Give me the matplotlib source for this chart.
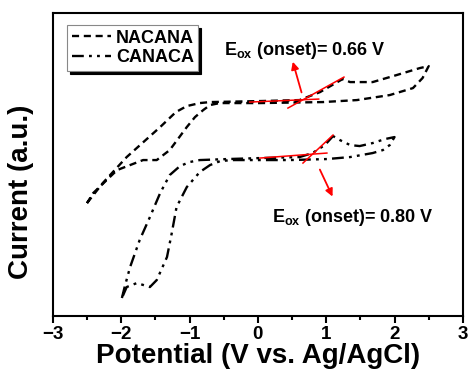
import matplotlib
matplotlib.use("Agg")
import matplotlib.pyplot as plt

# ----------------------------------------------------------
# Data (current in arbitrary units)
# ----------------------------------------------------------
nacana_v = [-2.50, -2.27, -1.92, -1.43, -1.20, -1.04, -0.85, -0.70, 0.03, 0.61,
            0.91, 1.24, 1.35, 1.68, 2.03, 2.37, 2.50, 2.41, 2.27, 1.93,
            1.45, 0.95, 0.03, -0.56, -0.70, -0.80, -0.92, -1.04, -1.29, -1.48,
            -1.68, -2.06, -2.41, -2.50]
nacana_i = [113, 133, 159, 189, 204, 210, 213, 214, 215, 216,
            224, 237, 234, 234, 241, 248, 250, 238, 228, 221,
            216, 214, 213, 213, 211, 206, 199, 189, 166, 156,
            156, 146, 123, 113]

canaca_v = [-1.99, -1.95, -1.87, -1.73, -1.58, -1.43, -1.29, -1.14, -1.00, -0.85,
            -0.45, 0.03, 0.61, 0.80, 0.98, 1.10, 1.20, 1.35, 1.49, 1.68,
            1.86, 2.00, 1.93, 1.83, 1.68, 1.35, 1.01, 0.47, -0.12, -0.37,
            -0.55, -0.70, -0.85, -1.04, -1.19, -1.26, -1.33, -1.48, -1.58, -1.77,
            -1.92, -1.99]
canaca_i = [18, 29, 49, 76, 99, 123, 141, 150, 154, 156,
            157, 158, 159, 163, 171, 180, 176, 171, 170, 173,
            177, 179, 171, 166, 163, 159, 157, 156, 156, 156,
            155, 151, 144, 129, 109, 83, 59, 36, 29, 33,
            29, 18]

# onset tangent lines
nacana_base_v = [-0.12, 0.89]
nacana_base_i = [214, 217]
nacana_rise_v = [0.44, 1.26]
nacana_rise_i = [208, 239]
canaca_base_v = [0.03, 1.01]
canaca_base_i = [158, 163]
canaca_rise_v = [0.66, 1.10]
canaca_rise_i = [153, 181]

labels = ["NACANA", "CANACA"]
onset_text = ["0.66", "0.80"]


def main():
    plt.rcParams["font.family"] = ["Liberation Sans", "DejaVu Sans"]
    plt.rcParams["font.weight"] = "bold"
    plt.rcParams["mathtext.fontset"] = "custom"
    plt.rcParams["mathtext.bf"] = "Liberation Sans:bold"
    plt.rcParams["mathtext.rm"] = "Liberation Sans:bold"

    fig = plt.figure(figsize=(4.68, 3.74), dpi=100)
    ax = fig.add_axes([0.113, 0.155, 0.876, 0.81])

    ax.plot(nacana_v, nacana_i, color="black", lw=1.7,
            linestyle=(0, (3.0, 2.0)), label=labels[0])
    ax.plot(canaca_v, canaca_i, color="black", lw=1.7,
            linestyle=(0, (5, 2.2, 1.2, 2.2, 1.2, 2.2)), label=labels[1])

    # tangents
    for v, i in [(nacana_base_v, nacana_base_i), (nacana_rise_v, nacana_rise_i),
                 (canaca_base_v, canaca_base_i), (canaca_rise_v, canaca_rise_i)]:
        ax.plot(v, i, color="red", lw=1.1)

    # arrows + labels
    ax.annotate("", xy=(0.50, 257), xytext=(0.65, 221),
                arrowprops=dict(arrowstyle="-|>", color="red", lw=1.3,
                                mutation_scale=11))
    ax.annotate("", xy=(1.11, 117), xytext=(0.89, 149),
                arrowprops=dict(arrowstyle="-|>", color="red", lw=1.3,
                                mutation_scale=11))
    ax.text(-0.50, 266, r"E$_{\mathbf{ox}}$ (onset)= " + onset_text[0] + " V",
            fontsize=13, fontweight="bold", va="center", ha="left")
    ax.text(0.21, 99, r"E$_{\mathbf{ox}}$ (onset)= " + onset_text[1] + " V",
            fontsize=13, fontweight="bold", va="center", ha="left")

    ax.set_xlim(-3, 3)
    ax.set_ylim(0, 303)
    ax.set_xticks([-3, -2, -1, 0, 1, 2, 3])
    ax.set_xticks([-2.5, -1.5, -0.5, 0.5, 1.5, 2.5], minor=True)
    ax.tick_params(axis="x", which="major", direction="out", length=5, width=1.5,
                   labelsize=13.5, pad=2)
    ax.tick_params(axis="x", which="minor", direction="out", length=3, width=1.5)
    ax.set_yticks([])
    for lbl in ax.get_xticklabels():
        lbl.set_fontweight("bold")
    for sp in ax.spines.values():
        sp.set_linewidth(1.5)

    ax.set_xlabel("Potential (V vs. Ag/AgCl)", fontsize=20, fontweight="bold",
                  labelpad=0)
    ax.set_ylabel("Current (a.u.)", fontsize=20, fontweight="bold")
    ax.yaxis.set_label_coords(-0.047, 0.41)

    leg = ax.legend(loc="upper left", bbox_to_anchor=(0.035, 0.96),
                    fontsize=13, frameon=True, fancybox=False,
                    shadow={"color": "black", "alpha": 1.0},
                    handlelength=2.2, handletextpad=0.25, borderpad=0.25,
                    labelspacing=0.15, borderaxespad=0)
    leg.get_frame().set_edgecolor("#888888")
    leg.get_frame().set_linewidth(0.8)
    for t in leg.get_texts():
        t.set_fontweight("bold")

    fig.savefig("out.png", dpi=100)
    plt.close(fig)


if __name__ == "__main__":
    main()
